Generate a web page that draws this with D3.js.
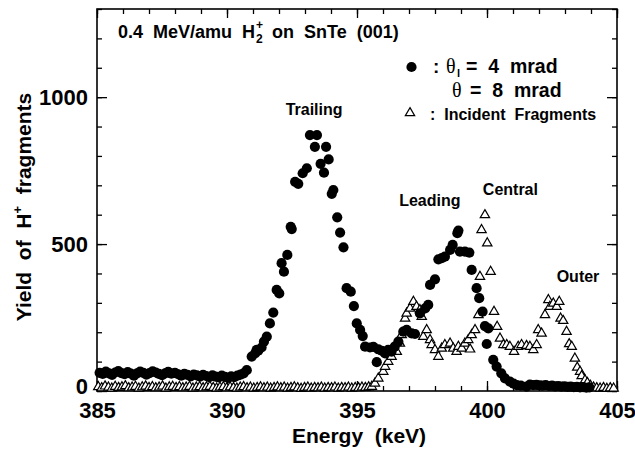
<!DOCTYPE html>
<html>
<head>
<meta charset="utf-8">
<script src="https://cdn.jsdelivr.net/npm/d3@7"></script>
<style>
  html, body { margin: 0; padding: 0; background: #fff; }
  svg { display: block; }
  text { font-family: "Liberation Sans", Arial, Helvetica, sans-serif; font-weight: bold; fill: #000; }
</style>
</head>
<body>
<svg id="chart" width="635" height="453"></svg>
<script>
// ---------------- DATA ----------------
const xTicksMajor = [385, 390, 395, 400, 405];
const yTicksMajor = [0, 500, 1000];
const xDomain = [385, 405];
const yDomain = [0, 1300];

// Filled circles: theta_l = 4 mrad, theta = 8 mrad  [energy keV, yield]
const measured = [
  [385.10,62],[385.22,58],[385.34,66],[385.46,60],[385.58,55],[385.70,63],[385.82,68],[385.94,61],
  [386.06,57],[386.18,64],[386.30,59],[386.42,52],[386.54,60],[386.66,66],[386.78,62],[386.90,56],
  [387.02,61],[387.14,67],[387.26,63],[387.38,58],[387.50,54],[387.62,60],[387.74,65],[387.86,59],
  [388.00,62],[388.12,57],[388.24,52],[388.36,58],[388.48,55],[388.60,50],[388.72,56],[388.84,53],
  [388.96,49],[389.08,55],[389.20,51],[389.32,47],[389.44,53],[389.56,49],[389.68,46],[389.80,52],
  [389.92,48],[390.04,45],[390.16,50],[390.28,47],[390.40,52],[390.52,56],[390.64,60],[390.76,71],
  [390.95,117],[391.08,128],[391.14,140],[391.20,137],[391.33,148],[391.42,168],[391.53,185],
  [391.65,230],[391.78,267],[391.91,344],[392.01,332],[392.10,435],[392.19,406],[392.32,463],
  [392.45,559],[392.49,551],[392.62,712],[392.74,705],[392.91,741],[393.07,758],[393.19,871],
  [393.38,831],[393.46,871],[393.60,773],[393.73,743],[393.81,831],[393.91,788],[394.03,671],
  [394.09,684],[394.24,591],[394.35,539],[394.48,489],[394.60,350],[394.76,338],[394.88,289],
  [394.99,230],[395.12,208],[395.22,187],[395.31,151],[395.50,148],[395.63,150],[395.76,98],
  [395.82,142],[395.95,137],[396.08,128],[396.20,140],[396.33,134],[396.45,151],[396.59,168],
  [396.78,202],[396.91,208],[397.10,196],[397.23,194],[397.42,264],[397.62,281],[397.74,293],
  [397.81,361],[398.00,380],[398.13,448],[398.26,452],[398.38,457],[398.58,480],[398.68,497],
  [398.86,537],[398.90,546],[398.96,474],[399.15,474],[399.32,471],[399.41,412],[399.60,350],
  [399.70,316],[399.83,270],[399.92,221],[399.99,160],[400.05,213],[400.24,106],[400.37,83],
  [400.55,60],[400.69,43],[400.88,32],[401.02,25],[401.14,20],[401.30,18],[401.52,15],
  [401.65,22],[401.78,20],[401.90,21],[402.02,19],[402.14,18],[402.26,20],[402.38,17],[402.50,18],
  [402.62,16],[402.74,17],[402.86,15],[402.98,16],[403.10,14],[403.22,15],[403.34,13],[403.46,14],
  [403.58,12],[403.70,13],[403.82,11],[403.94,12]
];

// Open triangles: incident fragments  [energy keV, yield]
const incident = [
  [385.05,14],[385.18,10],[385.31,16],[385.44,12],[385.57,9],[385.70,15],[385.83,11],[385.96,13],
  [386.09,17],[386.22,10],[386.35,12],[386.48,15],[386.61,9],[386.74,13],[386.87,16],[387.00,11],
  [387.13,14],[387.26,10],[387.39,12],[387.52,16],[387.65,9],[387.78,13],[387.91,15],[388.04,11],
  [388.17,14],[388.30,10],[388.43,12],[388.56,15],[388.69,9],[388.82,12],[388.95,14],[389.08,10],
  [389.21,13],[389.34,15],[389.47,11],[389.60,9],[389.73,12],[389.86,14],[389.99,10],[390.12,13],
  [390.25,11],[390.38,9],[390.51,12],[390.64,14],[390.77,10],[390.90,12],[391.03,9],[391.16,11],
  [391.29,13],[391.42,10],[391.55,12],[391.68,9],[391.81,11],[391.94,13],[392.07,10],[392.20,12],
  [392.33,9],[392.46,11],[392.59,13],[392.72,10],[392.85,8],[392.98,11],[393.11,12],[393.24,9],
  [393.37,11],[393.50,10],[393.63,12],[393.76,9],[393.89,11],[394.02,10],[394.15,12],[394.28,9],
  [394.41,11],[394.54,10],[394.67,12],[394.80,9],[394.93,11],[395.06,10],[395.19,12],[395.32,11],
  [395.45,13],
  [395.57,15],[395.69,26],[395.82,43],[396.01,66],[396.08,83],[396.20,100],[396.33,117],[396.53,134],
  [396.65,162],[396.72,191],[396.85,247],[396.91,264],[397.04,281],[397.17,304],[397.29,287],
  [397.42,276],[397.49,253],[397.55,185],[397.68,208],[397.81,174],[397.87,157],[398.00,140],
  [398.13,117],[398.26,145],[398.38,157],[398.58,162],[398.70,145],[398.83,134],[398.90,151],
  [399.03,145],[399.15,162],[399.28,174],[399.35,142],[399.41,191],[399.54,208],[399.67,259],
  [399.73,389],[399.79,548],[399.92,599],[400.01,503],[400.14,406],[400.27,270],[400.39,219],
  [400.50,179],[400.63,157],[400.76,157],[400.88,151],[401.04,134],[401.20,151],[401.33,157],
  [401.52,154],[401.65,151],[401.78,140],[401.91,157],[401.97,208],[402.10,196],[402.23,259],
  [402.36,310],[402.42,287],[402.55,298],[402.68,287],[402.78,304],[402.83,247],[402.93,239],
  [403.06,202],[403.16,160],[403.26,151],[403.38,111],[403.47,80],[403.58,66],[403.64,51],
  [403.77,37],[403.86,28],[403.98,18],[404.10,12],[404.22,10],[404.35,9],[404.48,11],[404.61,8],
  [404.74,10],[404.87,9]
];

const peakLabels = [
  { text: "Trailing", e: 393.35, v: 940 },
  { text: "Leading",  e: 397.8,  v: 628 },
  { text: "Central",  e: 400.9,  v: 667 },
  { text: "Outer",    e: 403.5,  v: 372 }
];

// ---------------- CHART ----------------
const svg = d3.select("#chart");
const L = 97, R = 617, T = 9, B = 391;
const x = d3.scaleLinear().domain(xDomain).range([L, R]);
const y = d3.scaleLinear().domain(yDomain).range([B, T]);

const xMinor = d3.range(385, 406, 1);
const yMinor = d3.range(0, 1301, 100);

function styleAxis(g) {
  g.select(".domain").remove();
  g.selectAll(".tick line").attr("stroke", "#000").attr("stroke-width", 1.3);
}

// minor ticks
svg.append("g").attr("transform", `translate(0,${B})`)
  .call(d3.axisBottom(x).tickValues(xMinor).tickSize(-5).tickFormat(""))
  .call(styleAxis);
svg.append("g").attr("transform", `translate(0,${T})`)
  .call(d3.axisTop(x).tickValues(xMinor).tickSize(-5).tickFormat(""))
  .call(styleAxis);
svg.append("g").attr("transform", `translate(${L},0)`)
  .call(d3.axisLeft(y).tickValues(yMinor).tickSize(-5).tickFormat(""))
  .call(styleAxis);
svg.append("g").attr("transform", `translate(${R},0)`)
  .call(d3.axisRight(y).tickValues(yMinor).tickSize(-5).tickFormat(""))
  .call(styleAxis);

// major ticks with labels
const gx = svg.append("g").attr("transform", `translate(0,${B})`)
  .call(d3.axisBottom(x).tickValues(xTicksMajor).tickSize(-10).tickPadding(11).tickFormat(d3.format("d")))
  .call(styleAxis);
gx.selectAll("text").attr("font-size", 22).attr("font-family", null);

svg.append("g").attr("transform", `translate(0,${T})`)
  .call(d3.axisTop(x).tickValues(xTicksMajor).tickSize(-9).tickFormat(""))
  .call(styleAxis);

const gy = svg.append("g").attr("transform", `translate(${L},0)`)
  .call(d3.axisLeft(y).tickValues(yTicksMajor).tickSize(-10).tickPadding(9).tickFormat(d3.format("d")))
  .call(styleAxis);
gy.selectAll("text").attr("font-size", 22).attr("font-family", null);
gy.selectAll(".tick").filter(d => d === 0).select("text").attr("dy", "0.1em");

svg.append("g").attr("transform", `translate(${R},0)`)
  .call(d3.axisRight(y).tickValues(yTicksMajor).tickSize(-10).tickFormat(""))
  .call(styleAxis);

// frame
svg.append("rect").attr("x", L).attr("y", T).attr("width", R - L).attr("height", B - T)
  .attr("fill", "none").attr("stroke", "#000").attr("stroke-width", 1.6);

// data: triangles
const tri = d3.symbol().type(d3.symbolTriangle).size(38);
svg.append("g").selectAll("path").data(incident).join("path")
  .attr("d", tri)
  .attr("transform", d => `translate(${x(d[0])},${y(d[1])})`)
  .attr("fill", "#fff").attr("stroke", "#000").attr("stroke-width", 1.2);

// data: circles
svg.append("g").selectAll("circle").data(measured).join("circle")
  .attr("cx", d => x(d[0])).attr("cy", d => y(d[1])).attr("r", 5.1)
  .attr("fill", "#000");

// peak labels
svg.append("g").selectAll("text").data(peakLabels).join("text")
  .attr("x", d => x(d.e)).attr("y", d => y(d.v))
  .attr("text-anchor", "middle").attr("font-size", 16)
  .text(d => d.text);

// title
const title = svg.append("text").attr("x", 118).attr("y", 38).attr("font-size", 18)
  .style("white-space", "pre");
title.append("tspan").text("0.4  MeV/amu  H");
const tW = title.node().getComputedTextLength();
svg.append("text").attr("x", 118 + tW + 1).attr("y", 29).attr("font-size", 12).text("+");
svg.append("text").attr("x", 118 + tW + 1).attr("y", 43).attr("font-size", 12).text("2");
svg.append("text").attr("x", 118 + tW + 7).attr("y", 38).attr("font-size", 18)
  .style("white-space", "pre").text("  on  SnTe  (001)");

// legend
svg.append("circle").attr("cx", 411.5).attr("cy", 67).attr("r", 5.1).attr("fill", "#000");
svg.append("text").attr("x", 433).attr("y", 73).attr("font-size", 19).text(":");
svg.append("text").attr("x", 446).attr("y", 73).attr("font-size", 20)
  .style("font-family", "'Liberation Serif', 'Times New Roman', serif").style("font-weight", "normal").text("θ");
svg.append("text").attr("x", 457).attr("y", 77).attr("font-size", 11).text("l");
svg.append("text").attr("x", 466).attr("y", 73).attr("font-size", 19.5).style("white-space", "pre").text("=  4  mrad");

svg.append("text").attr("x", 452).attr("y", 97).attr("font-size", 20)
  .style("font-family", "'Liberation Serif', 'Times New Roman', serif").style("font-weight", "normal").text("θ");
svg.append("text").attr("x", 470).attr("y", 97).attr("font-size", 19.5).style("white-space", "pre").text("=  8  mrad");

svg.append("path").attr("d", d3.symbol().type(d3.symbolTriangle).size(38)())
  .attr("transform", "translate(410,113)")
  .attr("fill", "#fff").attr("stroke", "#000").attr("stroke-width", 1.2);
svg.append("text").attr("x", 430).attr("y", 120).attr("font-size", 16).style("white-space", "pre")
  .text(":  Incident  Fragments");

// axis titles
svg.append("text").attr("x", 359).attr("y", 443).attr("text-anchor", "middle")
  .attr("font-size", 21).style("white-space", "pre").text("Energy  (keV)");

const yl = svg.append("text").attr("transform", "translate(31,207) rotate(-90)")
  .attr("text-anchor", "middle").attr("font-size", 21).style("white-space", "pre");
yl.append("tspan").text("Yield  of  H");
yl.append("tspan").attr("font-size", 13).attr("dy", -9).text("+");
yl.append("tspan").attr("dy", 9).text("  fragments");
</script>
</body>
</html>
